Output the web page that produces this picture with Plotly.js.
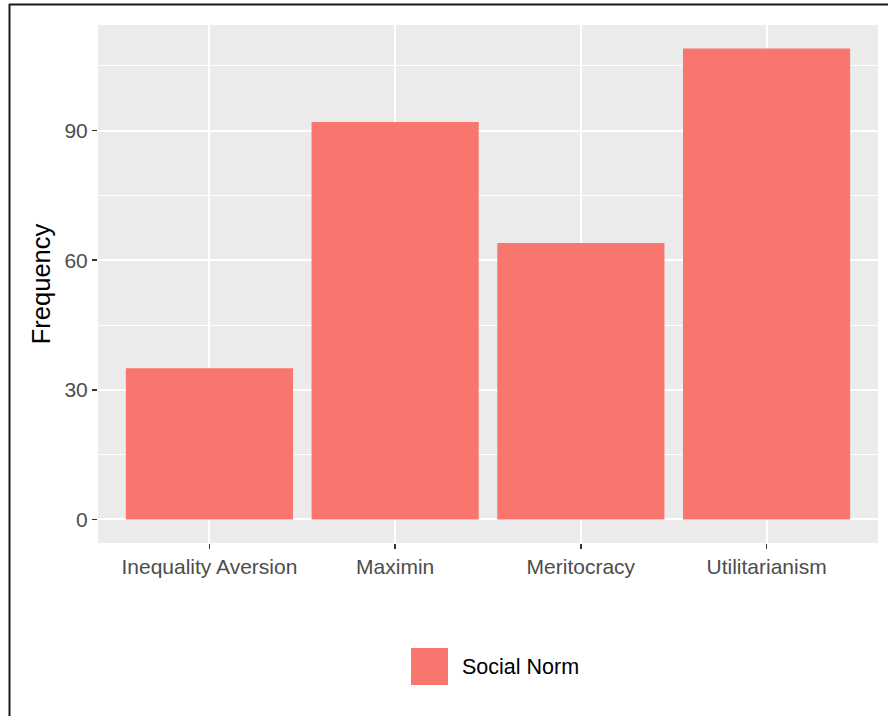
<!DOCTYPE html>
<html>
<head>
<meta charset="utf-8">
<script src="https://cdn.plot.ly/plotly-3.0.1.min.js"></script>
<style>
  html, body { margin: 0; padding: 0; background: #ffffff; }
  #chart { width: 888px; height: 716px; }
</style>
</head>
<body>
<div id="chart"></div>
<script>
const categories = ["Inequality Aversion", "Maximin", "Meritocracy", "Utilitarianism"];
const frequency = [35, 92, 64, 109];
const seriesName = "Social Norm";
const yTickVals = [0, 30, 60, 90];
const yTickText = ["0", "30", "60", "90"];

const barColor = "#F8766D";
const fontFam = "Liberation Sans, Arial, sans-serif";

const trace = {
  type: "bar",
  x: categories,
  y: frequency,
  name: seriesName,
  marker: { color: barColor, line: { width: 0 } },
  showlegend: false,
  hoverinfo: "x+y"
};

const W = 888, H = 716;
const mL = 98, mR = 10, mT = 25, mB = 173;
const pw = W - mL - mR, ph = H - mT - mB;
const px = v => (v - mL) / pw;
const py = v => (H - mB - v) / ph;

const layout = {
  width: W, height: H,
  margin: { l: mL, r: mR, t: mT, b: mB, pad: 0 },
  paper_bgcolor: "#ffffff",
  plot_bgcolor: "#EBEBEB",
  bargap: 0.1,
  showlegend: false,
  font: { family: fontFam, color: "#4D4D4D" },
  xaxis: {
    type: "category",
    range: [-0.6, 3.6],
    showgrid: true, gridcolor: "#ffffff", gridwidth: 2,
    zeroline: false, showline: false,
    ticks: "outside", ticklen: 5, tickwidth: 1.5, tickcolor: "#333333",
    tickfont: { size: 21, color: "#4D4D4D", family: fontFam },
    fixedrange: true
  },
  yaxis: {
    range: [-5.45, 114.45],
    tickmode: "array", tickvals: yTickVals, ticktext: yTickText,
    showgrid: true, gridcolor: "#ffffff", gridwidth: 2,
    minor: { tickmode: "array", tickvals: [15, 45, 75, 105], showgrid: true, gridcolor: "#ffffff", gridwidth: 1, ticks: "" },
    zeroline: false, showline: false,
    ticks: "outside", ticklen: 5, tickwidth: 1.5, tickcolor: "#333333",
    tickfont: { size: 21, color: "#4D4D4D", family: fontFam },
    title: { text: "Frequency", font: { size: 25.5, color: "#000000", family: fontFam }, standoff: 6 },
    fixedrange: true
  },
  shapes: [
    { type: "rect", xref: "paper", yref: "paper", x0: px(411), x1: px(448), y0: py(685), y1: py(648),
      fillcolor: barColor, line: { width: 0 } },
    { type: "line", xref: "paper", yref: "paper", x0: px(9.5), x1: px(9.5), y0: py(4), y1: py(720),
      line: { color: "#1a1a1a", width: 2 } },
    { type: "line", xref: "paper", yref: "paper", x0: px(9), x1: px(892), y0: py(4.5), y1: py(4.5),
      line: { color: "#1a1a1a", width: 2 } }
  ],
  annotations: [
    { xref: "paper", yref: "paper", x: px(460), y: py(667), xanchor: "left", yanchor: "middle",
      text: seriesName, showarrow: false, font: { size: 21.5, color: "#000000", family: fontFam } }
  ]
};

Plotly.newPlot("chart", [trace], layout, { displayModeBar: false, staticPlot: true });
</script>
</body>
</html>
